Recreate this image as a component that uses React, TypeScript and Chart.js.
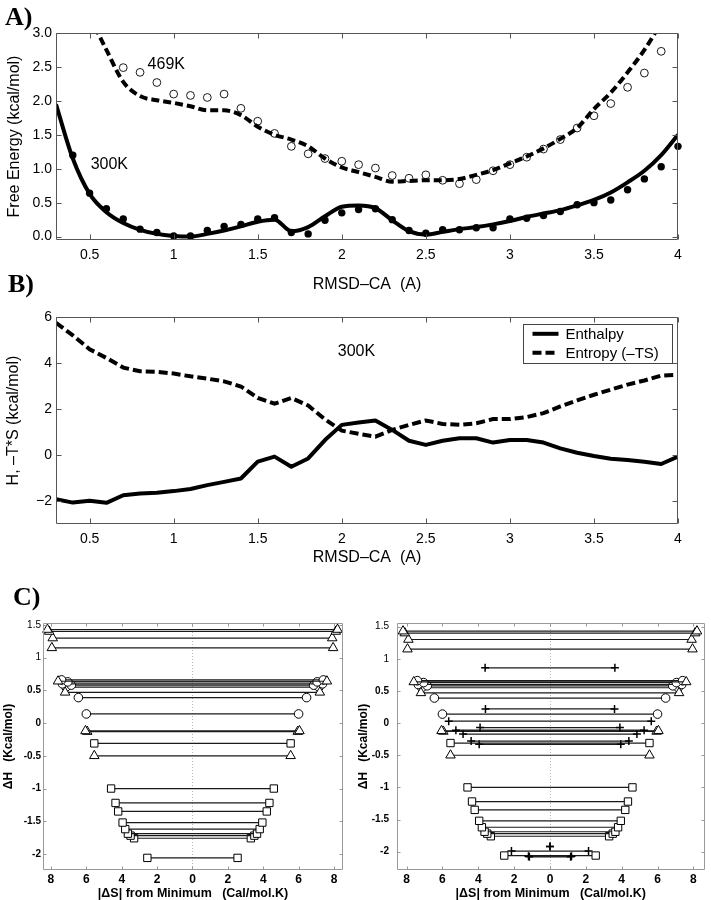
import React, { useEffect, useRef } from 'react';
import { Chart, registerables } from 'chart.js';

Chart.register(...registerables);

const SANS = '"Liberation Sans", Arial, Helvetica, sans-serif';
const SERIF = '"Liberation Serif", "Times New Roman", serif';

// ---------------- Panels A & B : shared x (RMSD-CA, Å) ----------------
const rmsd = [0.3, 0.4, 0.5, 0.6, 0.7, 0.8, 0.9, 1.0, 1.1, 1.2, 1.3, 1.4, 1.5, 1.6, 1.7, 1.8, 1.9, 2.0, 2.1, 2.2, 2.3, 2.4, 2.5, 2.6, 2.7, 2.8, 2.9, 3.0, 3.1, 3.2, 3.3, 3.4, 3.5, 3.6, 3.7, 3.8, 3.9, 4.0];
const rmsdTicks = [0.5, 1, 1.5, 2, 2.5, 3, 3.5, 4];

// ---------------- Panel A : free energy ----------------
const freeEnergyTicks = [0, 0.5, 1, 1.5, 2, 2.5, 3];
// 300K fitted curve (x = rmsd)
const fit300K = [1.95, 1.15, 0.63, 0.36, 0.2, 0.1, 0.04, 0.01, 0.0, 0.04, 0.09, 0.15, 0.22, 0.25, 0.08, 0.14, 0.3, 0.44, 0.46, 0.42, 0.24, 0.08, 0.03, 0.07, 0.11, 0.14, 0.18, 0.23, 0.29, 0.34, 0.39, 0.46, 0.54, 0.65, 0.8, 0.97, 1.2, 1.5];
// 300K points (x = 0.4 .. 4.0)
const rmsdDots300K = [0.4, 0.5, 0.6, 0.7, 0.8, 0.9, 1.0, 1.1, 1.2, 1.3, 1.4, 1.5, 1.6, 1.7, 1.8, 1.9, 2.0, 2.1, 2.2, 2.3, 2.4, 2.5, 2.6, 2.7, 2.8, 2.9, 3.0, 3.1, 3.2, 3.3, 3.4, 3.5, 3.6, 3.7, 3.8, 3.9, 4.0];
const dots300K = [1.2, 0.64, 0.41, 0.26, 0.11, 0.06, 0.01, 0.01, 0.09, 0.15, 0.18, 0.26, 0.28, 0.06, 0.04, 0.24, 0.35, 0.40, 0.41, 0.25, 0.09, 0.05, 0.10, 0.10, 0.13, 0.13, 0.26, 0.27, 0.31, 0.37, 0.47, 0.50, 0.54, 0.69, 0.85, 1.03, 1.33];
// 469K fitted curve (x = 0.5 .. 3.9)
const rmsdFit469K = [0.5, 0.6, 0.7, 0.8, 0.9, 1.0, 1.1, 1.2, 1.3, 1.4, 1.5, 1.6, 1.7, 1.8, 1.9, 2.0, 2.1, 2.2, 2.3, 2.4, 2.5, 2.6, 2.7, 2.8, 2.9, 3.0, 3.1, 3.2, 3.3, 3.4, 3.5, 3.6, 3.7, 3.8, 3.9];
const fit469K = [3.25, 2.75, 2.28, 2.07, 2.01, 1.97, 1.92, 1.86, 1.86, 1.79, 1.62, 1.5, 1.43, 1.33, 1.15, 1.02, 0.95, 0.88, 0.81, 0.82, 0.83, 0.83, 0.85, 0.91, 0.98, 1.08, 1.18, 1.30, 1.44, 1.60, 1.88, 2.12, 2.42, 2.75, 3.15];
// 469K points (x = 0.7 .. 3.9)
const rmsdCircles469K = [0.7, 0.8, 0.9, 1.0, 1.1, 1.2, 1.3, 1.4, 1.5, 1.6, 1.7, 1.8, 1.9, 2.0, 2.1, 2.2, 2.3, 2.4, 2.5, 2.6, 2.7, 2.8, 2.9, 3.0, 3.1, 3.2, 3.3, 3.4, 3.5, 3.6, 3.7, 3.8, 3.9];
const circles469K = [2.49, 2.42, 2.27, 2.10, 2.08, 2.05, 2.10, 1.89, 1.70, 1.52, 1.33, 1.22, 1.15, 1.11, 1.06, 1.01, 0.90, 0.86, 0.91, 0.83, 0.78, 0.84, 0.97, 1.06, 1.17, 1.29, 1.43, 1.60, 1.78, 1.96, 2.20, 2.41, 2.73];

// ---------------- Panel B : enthalpy / entropy (x = rmsd) ----------------
const hTsTicks = [-2, 0, 2, 4, 6];
const enthalpy = [-1.92, -2.07, -1.99, -2.08, -1.75, -1.67, -1.64, -1.57, -1.48, -1.31, -1.17, -1.02, -0.29, -0.07, -0.51, -0.15, 0.65, 1.31, 1.41, 1.50, 1.09, 0.62, 0.44, 0.62, 0.73, 0.73, 0.54, 0.65, 0.65, 0.54, 0.29, 0.10, -0.04, -0.16, -0.22, -0.29, -0.39, -0.07];
const entropyTS = [5.75, 5.2, 4.6, 4.22, 3.8, 3.64, 3.62, 3.54, 3.42, 3.32, 3.2, 2.98, 2.48, 2.23, 2.48, 2.15, 1.55, 1.06, 0.92, 0.80, 1.09, 1.31, 1.50, 1.35, 1.31, 1.38, 1.56, 1.56, 1.65, 1.82, 2.11, 2.37, 2.62, 2.84, 3.06, 3.24, 3.45, 3.49];

// ---------------- Panel C : ΔH vs |ΔS| ----------------
const dsTicks = [-8, -6, -4, -2, 0, 2, 4, 6, 8];
const dhTicks = [-2, -1.5, -1, -0.5, 0, 0.5, 1, 1.5];
const triangleDH = [1.43, 1.40, 1.30, 1.15, 0.64, 0.47, -0.12, -0.13, -0.50];
const triangleDS = [8.2, 8.1, 7.9, 7.95, 7.6, 7.2, 6.05, 5.95, 5.55];
const circleDH = [0.66, 0.63, 0.60, 0.58, 0.55, 0.39, 0.14];
const circleDS = [7.4, 7.05, 7.35, 6.85, 7.15, 6.45, 6.0];
const squareDH = [-0.31, -1.0, -1.22, -1.35, -1.52, -1.62, -1.69, -1.72, -1.76, -2.06];
const squareDS = [5.55, 4.6, 4.35, 4.2, 3.95, 3.8, 3.65, 3.5, 3.3, 2.55];
const crossDH = [0.86, 0.22, 0.03, -0.07, -0.11, -0.17, -0.28, -0.33, -1.92, -1.99, -2.07, -2.08];
const crossDS = [3.62, 3.6, 5.65, 3.9, 5.25, 4.85, 4.4, 3.95, 0, 2.15, 1.2, 1.15];

// ---------------- plugins ----------------
const boxPlugin = {
  id: 'mbox',
  beforeDatasetsDraw(chart: any, _a: any, o: any) {
    if (!o || !o.zeroLine) return;
    const { ctx, chartArea: ca } = chart;
    const p = Math.round(chart.scales.x.getPixelForValue(0)) + 0.5;
    ctx.save();
    ctx.strokeStyle = '#b8b8b8';
    ctx.lineWidth = 1;
    ctx.setLineDash([1, 2]);
    ctx.beginPath();
    ctx.moveTo(p, ca.top);
    ctx.lineTo(p, ca.bottom);
    ctx.stroke();
    ctx.restore();
  },
  afterDraw(chart: any, _a: any, o: any) {
    const { ctx, chartArea: ca } = chart;
    const xs = chart.scales.x;
    const ys = chart.scales.y;
    const L = o.tick;
    ctx.save();
    ctx.strokeStyle = o.color;
    ctx.lineWidth = 1;
    ctx.beginPath();
    const l = Math.round(ca.left) + 0.5, r = Math.round(ca.right) - 0.5;
    const t = Math.round(ca.top) + 0.5, b = Math.round(ca.bottom) - 0.5;
    ctx.rect(l, t, r - l, b - t);
    for (const tk of xs.ticks) {
      const p = Math.round(xs.getPixelForValue(tk.value)) + 0.5;
      ctx.moveTo(p, b); ctx.lineTo(p, b - L);
      ctx.moveTo(p, t); ctx.lineTo(p, t + L);
    }
    for (const tk of ys.ticks) {
      const p = Math.round(ys.getPixelForValue(tk.value)) + 0.5;
      ctx.moveTo(l, p); ctx.lineTo(l + L, p);
      ctx.moveTo(r, p); ctx.lineTo(r - L, p);
    }
    ctx.stroke();
    ctx.restore();
  },
};

const textPlugin = {
  id: 'texts',
  afterDraw(chart: any, _a: any, o: any) {
    if (!o || !o.items) return;
    const ctx = chart.ctx;
    for (const it of o.items) {
      ctx.save();
      ctx.font = it.font;
      ctx.fillStyle = '#000';
      ctx.textAlign = it.align || 'left';
      ctx.textBaseline = it.baseline || 'middle';
      let x = it.px, y = it.py;
      if (it.x !== undefined) {
        x = chart.scales.x.getPixelForValue(it.x);
        y = chart.scales.y.getPixelForValue(it.y);
      }
      ctx.fillText(it.text, x, y);
      ctx.restore();
    }
  },
};

const legendPlugin = {
  id: 'boxLegend',
  afterDraw(chart: any, _a: any, o: any) {
    if (!o || !o.show) return;
    const ctx = chart.ctx;
    const ca = chart.chartArea;
    const x0 = Math.round(ca.right - o.right - o.width) + 0.5;
    const y0 = Math.round(ca.top + o.top) + 0.5;
    ctx.save();
    ctx.fillStyle = '#fff';
    ctx.fillRect(x0, y0, o.width, o.height);
    ctx.strokeStyle = '#444';
    ctx.lineWidth = 1;
    ctx.strokeRect(x0, y0, o.width, o.height);
    const items = chart.data.datasets.filter((d: any) => d.label);
    items.forEach((d: any, i: number) => {
      const y = y0 + o.rowTop + i * o.rowGap;
      ctx.beginPath();
      ctx.setLineDash(d.borderDash || []);
      ctx.lineWidth = d.borderWidth;
      ctx.strokeStyle = d.borderColor;
      ctx.moveTo(x0 + o.lineX0, y);
      ctx.lineTo(x0 + o.lineX1, y);
      ctx.stroke();
      ctx.setLineDash([]);
      ctx.fillStyle = '#000';
      ctx.font = o.font;
      ctx.textBaseline = 'middle';
      ctx.textAlign = 'left';
      ctx.fillText(d.label, x0 + o.textX, y + 1);
    });
    ctx.restore();
  },
};

// ---------------- helpers ----------------
function xAxis(o: any) {
  return {
    type: 'linear',
    position: 'bottom',
    min: o.min,
    max: o.max,
    afterBuildTicks: (s: any) => { s.ticks = o.ticks.map((v: number) => ({ value: v })); },
    afterFit: (s: any) => { s.height = o.size; },
    grid: { display: false, drawTicks: false },
    border: { display: false },
    ticks: { font: o.font, color: '#000', padding: o.pad, callback: o.fmt, autoSkip: false, maxRotation: 0, minRotation: 0 },
    title: { display: true, text: o.title, font: o.tfont, color: '#000', padding: { top: 0, bottom: o.tpad } },
  };
}
function yAxis(o: any) {
  return {
    type: 'linear',
    position: 'left',
    min: o.min,
    max: o.max,
    afterBuildTicks: (s: any) => { s.ticks = o.ticks.map((v: number) => ({ value: v })); },
    afterFit: (s: any) => { s.width = o.size; },
    grid: { display: false, drawTicks: false },
    border: { display: false },
    ticks: { font: o.font, color: '#000', padding: o.pad, callback: o.fmt, autoSkip: false },
    title: { display: true, text: o.title, font: o.tfont, color: '#000', padding: { top: o.tpad, bottom: 0 } },
  };
}
const zip = (xs: number[], ys: number[]) => xs.map((x, i) => ({ x, y: ys[i] }));
const rmsdFmt = (v: any) => String(v);
const minusFmt = (v: any) => String(v).replace('-', '\u2212');

const baseOpts = {
  responsive: false,
  animation: false,
  devicePixelRatio: 1,
  events: [],
};

function makeA() {
  return {
    type: 'scatter',
    data: {
      datasets: [
        { data: zip(rmsd, fit300K), showLine: true, borderColor: '#000', borderWidth: 4, pointRadius: 0, cubicInterpolationMode: 'monotone', clip: 0 },
        { data: zip(rmsdDots300K, dots300K), showLine: false, pointRadius: 3.7, pointBackgroundColor: '#000', pointBorderColor: '#000', pointBorderWidth: 0, clip: false },
        { data: zip(rmsdFit469K, fit469K), showLine: true, borderColor: '#000', borderWidth: 4, borderDash: [8, 4], pointRadius: 0, cubicInterpolationMode: 'monotone', clip: 0 },
        { data: zip(rmsdCircles469K, circles469K), showLine: false, pointRadius: 3.9, pointBackgroundColor: 'rgba(255,255,255,0)', pointBorderColor: '#000', pointBorderWidth: 0.9, clip: false },
      ],
    },
    options: {
      ...baseOpts,
      layout: { padding: { left: 0, top: 33, right: 33, bottom: 0 } },
      scales: {
        x: xAxis({ min: 0.3, max: 4, ticks: rmsdTicks, size: 60, pad: 6.6, fmt: rmsdFmt, font: { family: SANS, size: 14 }, title: 'RMSD\u2013CA  (A)', tfont: { family: SANS, size: 16, lineHeight: 1.2 }, tpad: 5.4 }),
        y: yAxis({ min: -0.05, max: 3, ticks: freeEnergyTicks, size: 56, pad: 4, fmt: (v: any) => Number(v).toFixed(1), font: { family: SANS, size: 14 }, title: 'Free Energy (kcal/mol)', tfont: { family: SANS, size: 16, lineHeight: 1.2 }, tpad: 5.4 }),
      },
      plugins: {
        legend: { display: false },
        tooltip: { enabled: false },
        mbox: { color: '#555', tick: 5 },
        texts: {
          items: [
            { text: 'A)', px: 5, py: 25, baseline: 'alphabetic', font: `bold 26px ${SERIF}` },
            { text: '300K', x: 0.506, y: 1.06, font: `16px ${SANS}` },
            { text: '469K', x: 0.845, y: 2.53, font: `16px ${SANS}` },
          ],
        },
      },
    },
    plugins: [boxPlugin, textPlugin],
  };
}

function makeB() {
  return {
    type: 'scatter',
    data: {
      datasets: [
        { label: 'Enthalpy', data: zip(rmsd, enthalpy), showLine: true, borderColor: '#000', borderWidth: 4, pointRadius: 0, borderJoinStyle: 'round', clip: 0 },
        { label: 'Entropy (\u2013TS)', data: zip(rmsd, entropyTS), showLine: true, borderColor: '#000', borderWidth: 4, borderDash: [9, 4], pointRadius: 0, clip: 0 },
      ],
    },
    options: {
      ...baseOpts,
      layout: { padding: { left: 0, top: 55, right: 33, bottom: 0 } },
      scales: {
        x: xAxis({ min: 0.3, max: 4, ticks: rmsdTicks, size: 46, pad: 6.6, fmt: rmsdFmt, font: { family: SANS, size: 14 }, title: 'RMSD\u2013CA  (A)', tfont: { family: SANS, size: 16, lineHeight: 1.2 }, tpad: 2.9 }),
        y: yAxis({ min: -3, max: 6, ticks: hTsTicks, size: 56, pad: 4, fmt: minusFmt, font: { family: SANS, size: 14 }, title: 'H, \u2013T*S (kcal/mol)', tfont: { family: SANS, size: 16, lineHeight: 1.2 }, tpad: 4.4 }),
      },
      plugins: {
        legend: { display: false },
        tooltip: { enabled: false },
        mbox: { color: '#555', tick: 5 },
        texts: {
          items: [
            { text: 'B)', px: 8, py: 30, baseline: 'alphabetic', font: `bold 26px ${SERIF}` },
            { text: '300K', x: 1.976, y: 4.5, font: `16px ${SANS}` },
          ],
        },
        boxLegend: { show: true, right: 6, top: 7, width: 149, height: 39, rowTop: 9.3, rowGap: 19, lineX0: 9, lineX1: 35, textX: 42, font: `15px ${SANS}` },
      },
    },
    plugins: [boxPlugin, textPlugin, legendPlugin],
  };
}

function cDatasets(withCross: boolean) {
  const ds: any[] = [];
  const add = (H: number[], S: number[], style: string, radius: number, bw: number) => {
    H.forEach((h, i) => {
      ds.push({
        data: [{ x: -S[i], y: h }, { x: S[i], y: h }],
        showLine: true,
        borderColor: '#1a1a1a',
        borderWidth: 1.2,
        pointStyle: style,
        pointRadius: radius,
        pointBackgroundColor: '#fff',
        pointBorderColor: '#000',
        pointBorderWidth: bw,
        clip: false,
      });
    });
  };
  if (withCross) add(crossDH, crossDS, 'cross', 4, 1.5);
  add(triangleDH, triangleDS, 'triangle', 5.5, 1);
  add(circleDH, circleDS, 'circle', 4.3, 1);
  add(squareDH, squareDS, 'rect', 5.2, 1);
  return ds;
}

function makeC(right: boolean) {
  const yFont = (ctx: any) => ({ family: SANS, size: 10, weight: ctx.tick && ctx.tick.value >= 1 ? 'normal' : 'bold' });
  return {
    type: 'scatter',
    data: { datasets: cDatasets(right) },
    options: {
      ...baseOpts,
      layout: { padding: { left: 0, top: 43, right: right ? 3 : 12, bottom: 0 } },
      scales: {
        x: xAxis({
          min: right ? -8.535 : -8.45, max: right ? 8.62 : 8.51, ticks: dsTicks, size: 30, pad: 2.8,
          fmt: (v: any) => String(Math.abs(Number(v))),
          font: { family: SANS, size: 12, weight: 'bold' },
          title: '|\u0394S| from Minimum   (Cal/mol.K)',
          tfont: { family: SANS, size: 12.5, weight: 'bold', lineHeight: 1 }, tpad: 0,
        }),
        y: yAxis({
          min: right ? -2.285 : -2.245, max: right ? 1.557 : 1.53, ticks: dhTicks, size: right ? 42 : 43, pad: right ? 8 : 2,
          fmt: (v: any) => String(v), font: yFont,
          title: '\u0394H   (Kcal/mol)', tfont: { family: SANS, size: 12, weight: 'bold', lineHeight: 1.2 }, tpad: 1.8,
        }),
      },
      plugins: {
        legend: { display: false },
        tooltip: { enabled: false },
        mbox: { color: '#999', tick: 3, zeroLine: true },
        texts: {
          items: right ? [] : [{ text: 'C)', px: 13, py: 25, baseline: 'alphabetic', font: `bold 26px ${SERIF}` }],
        },
      },
    },
    plugins: [boxPlugin, textPlugin],
  };
}

function ChartBox({ left, top, width, height, make }: any) {
  const ref = useRef<HTMLCanvasElement>(null);
  useEffect(() => {
    const chart = new Chart(ref.current as HTMLCanvasElement, make() as any);
    return () => chart.destroy();
  }, []);
  return (
    <div style={{ position: 'absolute', left, top, width, height }}>
      <canvas ref={ref} width={width} height={height} style={{ display: 'block', width, height }} />
    </div>
  );
}

export default function App() {
  return (
    <div>
      <ChartBox left={0} top={0} width={711} height={300} make={makeA} />
      <ChartBox left={0} top={262} width={711} height={308} make={makeB} />
      <ChartBox left={0} top={580} width={355} height={320} make={() => makeC(false)} />
      <ChartBox left={355} top={580} width={356} height={320} make={() => makeC(true)} />
    </div>
  );
}
